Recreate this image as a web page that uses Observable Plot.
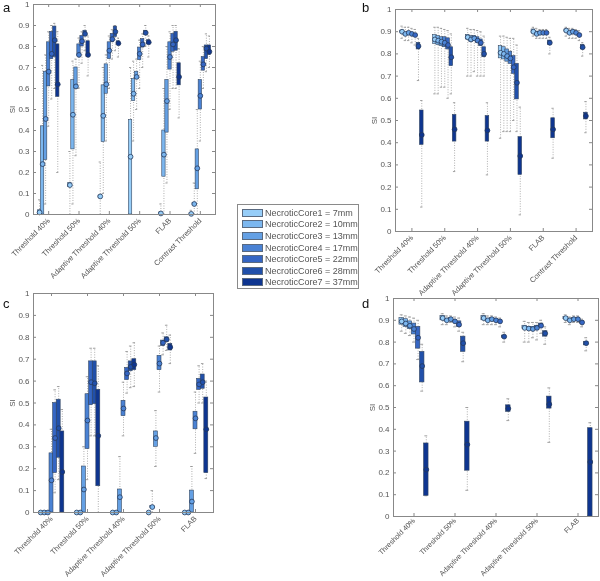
<!DOCTYPE html>
<html><head><meta charset="utf-8">
<script src="https://cdn.jsdelivr.net/npm/d3@7"></script>
<script src="https://cdn.jsdelivr.net/npm/@observablehq/plot@0.6"></script>
<style>
body{margin:0;background:#fff;font-family:"Liberation Sans",Arial,sans-serif;}
#root{position:relative;width:600px;height:581px;overflow:hidden;background:#fff;}
.panel{position:absolute;will-change:transform;}
.plab{position:absolute;font-size:13px;color:#111;line-height:1;}
#legend{position:absolute;left:237px;top:204px;width:122px;height:85px;border:1px solid #8a8a8a;box-sizing:border-box;background:#fff;padding-top:2px;}
.lrow{display:flex;align-items:center;height:11.6px;font-size:9px;color:#555;white-space:nowrap;}
.sw{width:21px;height:8px;border:1px solid #5a6a80;box-sizing:border-box;margin:0 2px 0 4px;}
</style></head><body><div id="root"></div>
<script>
const cores = ["NecroticCore1 = 7mm","NecroticCore2 = 10mm","NecroticCore3 = 13mm","NecroticCore4 = 17mm","NecroticCore5 = 22mm","NecroticCore6 = 28mm","NecroticCore7 = 37mm"];
const coreColors = ["#96cdf8","#7cb7ef","#64a0e4","#4a82d4","#3566c4","#2150aa","#0e3590"];
const methodsAB = ["Threshold 40%","Threshold 50%","Adaptive Threshold 40%","Adaptive Threshold 50%","FLAB","Contrast Threshold"];
const methodsCD = ["Threshold 40%","Threshold 50%","Adaptive Threshold 40%","Adaptive Threshold 50%","FLAB"];
const yTicks = [0,0.1,0.2,0.3,0.4,0.5,0.6,0.7,0.8,0.9,1];

// Panel a
const aMed = [[0.01,0.24,0.455,0.68,0.765,0.83,0.62],[0.14,0.475,0.61,0.76,0.825,0.86,0.76],[0.086,0.47,0.62,0.78,0.835,0.87,0.815],[0.275,0.575,0.655,0.765,0.81,0.865,0.82],[0.005,0.285,0.54,0.75,0.81,0.83,0.655],[0.003,0.05,0.22,0.565,0.715,0.79,0.775]];
const aQ1 = [[0,0,0.26,0.61,0.74,0.75,0.56],[0.13,0.31,0.60,0.755,0.80,0.85,0.75],[0.08,0.345,0.575,0.74,0.82,0.845,0.81],[0,0.54,0.645,0.735,0.795,0.855,0.81],[0,0.18,0.39,0.69,0.775,0.78,0.615],[0,0.045,0.12,0.50,0.685,0.74,0.76]];
const aQ3 = [[0.02,0.42,0.68,0.82,0.87,0.895,0.81],[0.15,0.64,0.70,0.81,0.85,0.875,0.825],[0.09,0.615,0.715,0.82,0.86,0.895,0.825],[0.45,0.645,0.68,0.795,0.835,0.875,0.83],[0.01,0.40,0.64,0.82,0.86,0.87,0.72],[0.005,0.055,0.31,0.64,0.75,0.805,0.805]];
const aLo = [[0,0,0.05,0.42,0.55,0.6,0.2],[0,0.05,0.28,0.6,0.72,0.78,0.66],[0,0.1,0.35,0.6,0.74,0.78,0.75],[0,0.35,0.5,0.6,0.7,0.8,0.75],[0,0,0.15,0.5,0.6,0.6,0.46],[0,0,0,0.35,0.6,0.68,0.7]];
const aHi = [[0.07,0.71,0.76,0.87,0.9,0.91,0.87],[0.3,0.73,0.74,0.84,0.87,0.9,0.85],[0.25,0.7,0.76,0.85,0.88,0.9,0.84],[0.7,0.73,0.74,0.83,0.86,0.9,0.85],[0.05,0.6,0.8,0.87,0.9,0.9,0.79],[0.02,0.15,0.5,0.73,0.8,0.86,0.85]];

// Panel b
const bMed = [[0.90,0.89,0.895,0.89,0.885,0.835,0.435],[0.865,0.86,0.855,0.85,0.84,0.785,0.46],[0.875,0.865,0.87,0.86,0.85,0.80,0.455],[0.805,0.80,0.79,0.78,0.74,0.67,0.34],[0.90,0.89,0.895,0.895,0.895,0.85,0.46],[0.905,0.895,0.90,0.895,0.885,0.83,0.52]];
const bQ1 = [[0.895,0.885,0.89,0.885,0.88,0.82,0.39],[0.845,0.84,0.835,0.83,0.82,0.745,0.405],[0.865,0.855,0.86,0.85,0.835,0.785,0.405],[0.78,0.775,0.765,0.755,0.71,0.595,0.255],[0.895,0.885,0.89,0.89,0.89,0.84,0.42],[0.9,0.89,0.895,0.89,0.88,0.82,0.505]];
const bQ3 = [[0.905,0.895,0.9,0.895,0.89,0.85,0.545],[0.885,0.88,0.875,0.875,0.87,0.83,0.525],[0.885,0.88,0.88,0.875,0.865,0.83,0.52],[0.835,0.83,0.82,0.81,0.79,0.755,0.425],[0.91,0.9,0.9,0.9,0.9,0.86,0.51],[0.91,0.9,0.905,0.9,0.89,0.84,0.535]];
const bLo = [[0.87,0.86,0.86,0.85,0.84,0.68,0.11],[0.62,0.62,0.65,0.65,0.6,0.62,0.27],[0.7,0.7,0.72,0.7,0.7,0.7,0.255],[0.42,0.45,0.45,0.45,0.5,0.45,0.075],[0.88,0.87,0.87,0.87,0.87,0.8,0.33],[0.88,0.87,0.87,0.87,0.86,0.79,0.445]];
const bHi = [[0.925,0.92,0.92,0.915,0.91,0.87,0.59],[0.92,0.92,0.915,0.91,0.905,0.89,0.58],[0.915,0.91,0.91,0.905,0.9,0.88,0.58],[0.88,0.88,0.875,0.87,0.87,0.84,0.56],[0.92,0.915,0.91,0.91,0.91,0.875,0.555],[0.92,0.915,0.915,0.91,0.905,0.85,0.585]];

// Panel c
const cMed = [[0,0,0,0.147,0.34,0.385,0.185],[0,0,0.105,0.42,0.595,0.59,0.35],[0,0,0.07,0.475,0.635,0.665,0.675],[0,0.025,0.34,0.68,0.775,0.79,0.755],[0,0,0.05,0.43,0.585,0.595,0.38]];
const cQ1 = [[0,0,0,0,0.18,0.25,0],[0,0,0,0.29,0.49,0.495,0.12],[0,0,0,0.44,0.605,0.645,0.65],[0,0.02,0.30,0.65,0.76,0.78,0.74],[0,0,0,0.38,0.56,0.565,0.18]];
const cQ3 = [[0,0,0,0.27,0.50,0.515,0.37],[0,0,0.21,0.54,0.69,0.69,0.56],[0,0,0.105,0.51,0.66,0.69,0.70],[0,0.03,0.37,0.715,0.785,0.80,0.77],[0,0,0.10,0.46,0.61,0.63,0.525]];
const cLo = [[0,0,0,0,0.09,0.15,0],[0,0,0,0.15,0.35,0.35,0],[0,0,0,0.35,0.545,0.57,0.575],[0,0,0.21,0.55,0.72,0.74,0.68],[0,0,0,0.27,0.5,0.5,0.155]];
const cHi = [[0,0,0,0.38,0.56,0.575,0.47],[0,0,0.3,0.62,0.75,0.75,0.67],[0,0,0.255,0.595,0.735,0.76,0.775],[0,0.1,0.465,0.76,0.82,0.855,0.81],[0,0,0.21,0.55,0.67,0.68,0.6]];

// Panel d
const dMed = [[0.895,0.885,0.875,0.86,0.82,0.69,0.215],[0.91,0.90,0.905,0.895,0.88,0.795,0.33],[0.91,0.90,0.905,0.90,0.895,0.825,0.495],[0.865,0.862,0.86,0.865,0.875,0.84,0.515],[0.91,0.90,0.905,0.905,0.89,0.795,0.25]];
const dQ1 = [[0.88,0.87,0.86,0.835,0.77,0.615,0.095],[0.9,0.895,0.9,0.89,0.87,0.755,0.21],[0.9,0.895,0.9,0.895,0.89,0.82,0.48],[0.86,0.855,0.855,0.855,0.87,0.825,0.495],[0.905,0.895,0.9,0.9,0.885,0.785,0]];
const dQ3 = [[0.91,0.905,0.895,0.885,0.87,0.755,0.335],[0.92,0.905,0.91,0.9,0.895,0.825,0.435],[0.92,0.905,0.91,0.905,0.9,0.83,0.51],[0.875,0.87,0.87,0.875,0.885,0.85,0.55],[0.915,0.905,0.91,0.91,0.895,0.80,0.405]];
const dLo = [[0.85,0.84,0.83,0.8,0.72,0.575,0.095],[0.88,0.88,0.89,0.87,0.85,0.71,0.12],[0.88,0.88,0.88,0.88,0.87,0.8,0.44],[0.8,0.8,0.82,0.81,0.84,0.79,0.34],[0.89,0.88,0.89,0.89,0.87,0.76,0]];
const dHi = [[0.925,0.92,0.915,0.91,0.9,0.79,0.37],[0.93,0.92,0.92,0.915,0.91,0.845,0.5],[0.93,0.92,0.92,0.915,0.91,0.845,0.54],[0.895,0.89,0.89,0.89,0.9,0.87,0.59],[0.925,0.915,0.92,0.92,0.905,0.82,0.43]];

function rows(methods, med, q1, q3, lo, hi) {
  const out = [];
  methods.forEach((m, g) => cores.forEach((c, k) => out.push({method: m, g, k, core: c,
    med: med[g][k], q1: q1[g][k], q3: q3[g][k], lo: lo[g][k], hi: hi[g][k]})));
  return out;
}

const STEP = 0.1, HW = 0.055, CAP = 0.035;
const pos = d => d.g + (d.k - 3) * STEP;

function panel(methods, data, o) {
  const innerW = o.width - o.marginLeft - o.marginRight;
  const innerH = o.height - o.marginTop - o.marginBottom;
  const xt = d3.range(methods.length);
  return Plot.plot({
    width: o.width, height: o.height,
    marginLeft: o.marginLeft, marginRight: o.marginRight, marginTop: o.marginTop, marginBottom: o.marginBottom,
    style: {fontFamily: "Liberation Sans, Arial, sans-serif", fontSize: "8px", color: "#555", background: "transparent", overflow: "visible"},
    x: {domain: [-0.5, methods.length - 0.5]},
    y: {domain: [0, 1]},
    color: {domain: cores, range: coreColors},
    marks: [
      Plot.axisX({ticks: xt, tickFormat: i => methods[i], tickSize: 0, tickPadding: o.xPad, tickRotate: -45, label: null, fill: "#555", fontSize: o.xFont}),
      Plot.axisY({ticks: yTicks, tickFormat: d => String(d), tickSize: 0, tickPadding: 4, label: "SI", labelAnchor: "center", labelOffset: o.labelOffset, labelArrow: "none", fill: "#555", fontSize: 8}),
      Plot.tickY(yTicks, {y: d => d, stroke: "#888", insetRight: innerW - 3}),
      Plot.tickY(yTicks, {y: d => d, stroke: "#888", insetLeft: innerW - 3}),
      Plot.tickX(xt, {x: d => d, stroke: "#888", insetTop: innerH - 3}),
      Plot.tickX(xt, {x: d => d, stroke: "#888", insetBottom: innerH - 3}),
      Plot.ruleX(data, {x: pos, y1: "lo", y2: "hi", stroke: "#9a9a9a", strokeWidth: 0.8, strokeDasharray: "1,1.5"}),
      Plot.ruleY(data, {x1: d => pos(d) - CAP, x2: d => pos(d) + CAP, y: "hi", stroke: "#8a8a8a", strokeWidth: 0.8}),
      Plot.ruleY(data, {x1: d => pos(d) - CAP, x2: d => pos(d) + CAP, y: "lo", stroke: "#8a8a8a", strokeWidth: 0.8}),
      Plot.rect(data, {x1: d => pos(d) - HW, x2: d => pos(d) + HW, y1: "q1", y2: "q3", fill: "core", stroke: "#34465f", strokeWidth: 0.6}),
      Plot.dot(data, {x: pos, y: "med", r: o.r, fill: "core", stroke: "#24385a", strokeWidth: 0.8}),
      Plot.frame({stroke: "#888", strokeWidth: 1})
    ]
  });
}

const root = document.getElementById("root");
function place(node, left, top) {
  node.classList.add("panel");
  node.style.left = left + "px"; node.style.top = top + "px";
  root.appendChild(node);
}
place(panel(methodsAB, rows(methodsAB, aMed, aQ1, aQ3, aLo, aHi),
  {width: 225, height: 280, marginLeft: 33, marginRight: 10, marginTop: 4, marginBottom: 66, labelOffset: 24, r: 2.4, xFont: 7.5, xPad: 5}), 0, 0);
place(panel(methodsAB, rows(methodsAB, bMed, bQ1, bQ3, bLo, bHi),
  {width: 240, height: 292, marginLeft: 35, marginRight: 8, marginTop: 9, marginBottom: 61, labelOffset: 24, r: 2.4, xFont: 7.5, xPad: 5}), 360, 0);
place(panel(methodsCD, rows(methodsCD, cMed, cQ1, cQ3, cLo, cHi),
  {width: 225, height: 301, marginLeft: 33, marginRight: 12, marginTop: 13, marginBottom: 69, labelOffset: 24, r: 2.4, xFont: 7.5, xPad: 5}), 0, 280);
place(panel(methodsCD, rows(methodsCD, dMed, dQ1, dQ3, dLo, dHi),
  {width: 240, height: 301, marginLeft: 33, marginRight: 2, marginTop: 18, marginBottom: 65, labelOffset: 24, r: 2.4, xFont: 7.2, xPad: 3}), 360, 280);

[["a",3,1],["b",362,1],["c",3,297],["d",362,297]].forEach(([t,x,y]) => {
  const s = document.createElement("div"); s.className = "plab"; s.textContent = t;
  s.style.left = x + "px"; s.style.top = y + "px"; root.appendChild(s);
});

const lg = document.createElement("div"); lg.id = "legend";
cores.forEach((c, k) => {
  const r = document.createElement("div"); r.className = "lrow";
  const sw = document.createElement("div"); sw.className = "sw"; sw.style.background = coreColors[k];
  const tx = document.createElement("span"); tx.textContent = c;
  r.appendChild(sw); r.appendChild(tx); lg.appendChild(r);
});
root.appendChild(lg);
</script></body></html>
